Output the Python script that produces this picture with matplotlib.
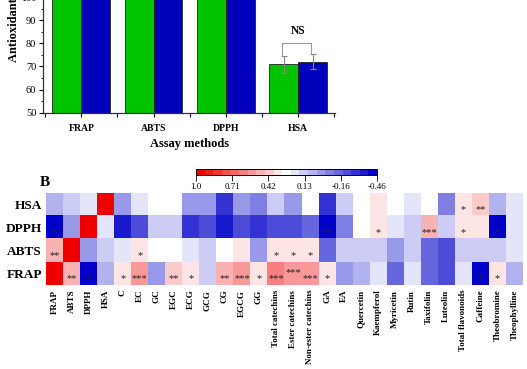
import numpy as np
import matplotlib
matplotlib.use("Agg")
import matplotlib.pyplot as plt
from matplotlib.colors import LinearSegmentedColormap
from matplotlib.ticker import MultipleLocator, FixedLocator

plt.rcParams["font.family"] = ["Liberation Serif", "DejaVu Serif"]

# --- panel A: antioxidant capacity per assay ---
assays = ["FRAP", "ABTS", "DPPH", "HSA"]
green_vals = [100.0, 100.0, 100.0, 70.9]
blue_vals = [100.0, 100.0, 100.0, 72.1]
green_err = [0.0, 0.0, 0.0, 3.7]
blue_err = [0.0, 0.0, 0.0, 3.3]

# --- panel B: correlation heatmap ---
rows = ["HSA", "DPPH", "ABTS", "FRAP"]
cols = ["FRAP", "ABTS", "DPPH", "HSA", "C", "EC", "GC", "EGC", "ECG", "GCG", "CG",
        "EGCG", "GG", "Total catechins", "Ester catechins", "Non-ester catechins",
        "GA", "EA", "Quercetin", "Kaempferol", "Myricetin", "Rutin", "Taxifolin",
        "Luteolin", "Total flavonoids", "Caffeine", "Theobromine", "Theophylline"]

r_hsa = [0.07, 0.13, 0.18, 1.0, 0.0, 0.23, 0.27, 0.27, 0.0, -0.04, -0.30, 0.0, -0.10,
         0.13, -0.03, 0.27, -0.30, 0.10, 0.27, 0.33, 0.27, 0.18, 0.27, -0.05, 0.32,
         0.42, 0.08, 0.18]
r_dpph = [-0.44, -0.03, 1.0, 0.18, -0.33, -0.22, 0.13, 0.13, -0.30, -0.20, -0.33, -0.20,
          -0.30, -0.22, -0.22, -0.13, -0.45, -0.05, 0.27, 0.35, 0.23, 0.13, 0.50, 0.13,
          0.36, 0.31, -0.44, 0.18]
r_abts = [0.45, 1.0, -0.03, 0.13, 0.23, 0.33, 0.27, 0.27, 0.23, 0.13, 0.24, 0.31, 0.0,
          0.36, 0.32, 0.36, -0.12, 0.13, 0.13, 0.16, 0.0, 0.13, -0.12, -0.20, 0.13, 0.13,
          0.13, 0.18]
r_frap = [1.0, 0.45, -0.44, 0.07, 0.36, 0.52, 0.0, 0.42, 0.37, 0.13, 0.46, 0.52, 0.33,
          0.62, 0.55, 0.56, 0.32, -0.03, 0.05, 0.18, -0.17, 0.23, -0.12, -0.20, 0.18,
          -0.44, 0.36, 0.05]

s_hsa = [""] * 24 + ["*", "**", "", ""]
s_dpph = ["*"] + [""] * 15 + ["**", "", "", "*", "", "", "***", "", "*", "", "*", ""]
s_abts = ["**", "", "", "", "", "*", "", "", "", "", "", "", "", "*", "*", "*"] + [""] * 12
s_frap = ["", "**", "*", "", "*", "***", "", "**", "*", "", "**", "***", "*", "***",
          "***", "***", "*", "", "", "", "", "", "", "", "", "*", "*", ""]

cbar_labels = ["1.0", "0.71", "0.42", "0.13", "-0.16", "-0.46"]

GREEN, BLUE = "#00c400", "#0000bb"

fig = plt.figure(figsize=(5.27, 3.69), dpi=100)

# bar chart (top is cropped like the source figure)
ax = fig.add_axes([43.3 / 527, 256.3 / 369, 291.7 / 527, 138.6 / 369])
x = np.arange(len(assays))
ax.bar(x - 0.2, green_vals, width=0.4, color=GREEN, edgecolor="#222", linewidth=0.6)
ax.bar(x + 0.2, blue_vals, width=0.4, color=BLUE, edgecolor="#222", linewidth=0.6)
ax.errorbar(x[3] - 0.2, green_vals[3], yerr=green_err[3], fmt="none", ecolor="#888",
            elinewidth=0.8, capsize=2.5, capthick=0.8)
ax.errorbar(x[3] + 0.2, blue_vals[3], yerr=blue_err[3], fmt="none", ecolor="#888",
            elinewidth=0.8, capsize=2.5, capthick=0.8)
ax.plot([2.78, 2.78, 3.18, 3.18], [75.0, 80.0, 80.0, 75.7], color="#9a9a9a", lw=0.8)
ax.text(3.0, 85.2, "NS", ha="center", va="center", fontsize=8.3, fontweight="bold")
ax.set_xlim(-0.525, 3.51)
ax.set_ylim(50, 110)
ax.set_xticks(x)
ax.set_xticklabels(assays, fontsize=7, fontweight="bold")
ax.xaxis.set_minor_locator(FixedLocator([-0.5, 0.5, 1.5, 2.5, 3.5]))
ax.yaxis.set_major_locator(MultipleLocator(10))
ax.yaxis.set_minor_locator(MultipleLocator(5))
ax.tick_params(axis="y", which="major", labelsize=7.5, length=3, width=0.8, pad=2)
ax.tick_params(axis="y", which="minor", length=1.8, width=0.6)
ax.tick_params(axis="x", which="both", length=3, width=0.8, pad=5)
for s in ["top", "right"]:
    ax.spines[s].set_visible(False)
for s in ["left", "bottom"]:
    ax.spines[s].set_linewidth(0.9)
    ax.spines[s].set_color("#333")
fig.text(190 / 527, 1 - 144 / 369, "Assay methods", ha="center", va="center",
         fontsize=9, fontweight="bold")
fig.text(14.5 / 527, 1 - 62 / 369, "Antioxidant activity (%)", rotation=90,
         ha="center", va="bottom", fontsize=9, fontweight="bold")

# heatmap
cmap = LinearSegmentedColormap.from_list("rwb", ["#0000c8", "#ffffff", "#ee0000"], N=21)
data = np.array([r_hsa, r_dpph, r_abts, r_frap])
stars = [s_hsa, s_dpph, s_abts, s_frap]

hax = fig.add_axes([46 / 527, 83.5 / 369, 477 / 527, 92.5 / 369])
im = hax.imshow(data, cmap=cmap, vmin=-0.46, vmax=1.0, aspect="auto",
                interpolation="nearest")
for i in range(data.shape[0]):
    for j in range(data.shape[1]):
        if stars[i][j]:
            dy = 0.22
            if i == 3 and cols[j] == "Ester catechins":
                dy = -0.05
            hax.text(j, i + dy, stars[i][j], ha="center", va="center", fontsize=7.5,
                     color="#222")
hax.set_xticks(np.arange(len(cols)))
hax.set_xticklabels(cols, rotation=90, fontsize=6.5, fontweight="bold")
hax.set_yticks(np.arange(len(rows)))
hax.set_yticklabels(rows, fontsize=9.5, fontweight="bold")
hax.tick_params(length=0, pad=3)
for s in hax.spines.values():
    s.set_visible(False)
fig.text(45 / 527, 1 - 183 / 369, "B", ha="center", va="center", fontsize=11,
         fontweight="bold")

# colour bar
cax = fig.add_axes([196 / 527, (369 - 175) / 369, 181 / 527, 6 / 369])
cb = fig.colorbar(im, cax=cax, orientation="horizontal")
cb.set_ticks(np.linspace(1.0, -0.46, len(cbar_labels)))
cb.set_ticklabels(cbar_labels)
cax.invert_xaxis()
cax.tick_params(labelsize=6.5, length=4, width=0.6, pad=1.5)
cb.outline.set_linewidth(0.7)

fig.savefig("out.png", dpi=100)
